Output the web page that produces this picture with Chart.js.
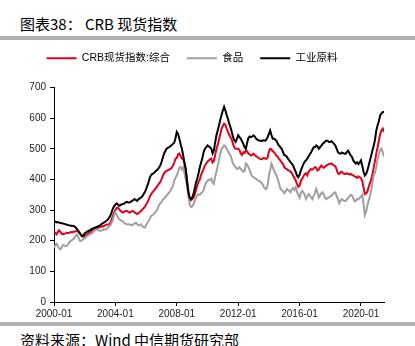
<!DOCTYPE html>
<html>
<head>
<meta charset="utf-8">
<script src="https://cdn.jsdelivr.net/npm/chart.js@4.4.1/dist/chart.umd.min.js"></script>
<style>
  html, body { margin: 0; padding: 0; background: #fff; }
  body { width: 415px; height: 346px; position: relative; overflow: hidden; font-family: "Noto Sans CJK SC", sans-serif; }
  #title { position: absolute; left: 20px; top: 15px; font-size: 15px; line-height: 18px; color: #000; white-space: nowrap; }
  .rule { position: absolute; left: 0; width: 415px; height: 4px; background: #b0b0b0; z-index: 2; }
  #src { position: absolute; left: 20px; top: 331px; font-size: 15px; line-height: 18px; color: #000; white-space: nowrap; }
  #box { position: absolute; left: 0; top: 36px; width: 415px; height: 286px; }
</style>
</head>
<body>
<div id="title">图表38： CRB 现货指数</div>
<div class="rule" style="top:36px"></div>
<div id="box"><canvas id="mainChart"></canvas></div>
<div class="rule" style="top:322px"></div>
<div id="src">资料来源：Wind 中信期货研究部</div>
<script>
// monthly values, 2000-01 .. 2021-07
const seriesNames = ["CRB现货指数:综合", "食品", "工业原料"];
const tickLabels = ["2000-01", "2004-01", "2008-01", "2012-01", "2016-01", "2020-01"];

const composite = [
	229, 226, 221, 228, 234, 229, 223, 221, 223, 224, 226, 225,
	226, 228, 227, 229, 229, 231, 232, 230, 226, 220, 215, 213,
	215, 218, 220, 224, 227, 231, 234, 237, 238, 240, 242, 243,
	245, 247, 246, 248, 250, 253, 252, 254, 258, 268, 282, 292,
	300, 307, 308, 302, 298, 294, 292, 294, 297, 297, 294, 292,
	294, 297, 296, 292, 290, 287, 290, 294, 297, 302, 306, 310,
	318, 325, 333, 345, 352, 358, 363, 368, 374, 380, 386, 391,
	400, 410, 420, 425, 428, 430, 432, 434, 438, 445, 455, 468,
	470, 482, 484, 476, 468, 465, 452, 430, 400, 365, 340, 332,
	335, 340, 350, 365, 380, 392, 400, 415, 425, 435, 445, 452,
	458, 462, 466, 468, 455, 460, 480, 500, 512, 530, 548, 565,
	575, 582, 578, 566, 555, 545, 538, 530, 515, 505, 500, 500,
	500, 496, 485, 480, 489, 486, 494, 492, 484, 482, 478, 480,
	484, 480, 476, 473, 470, 467, 466, 467, 470, 468, 467, 472,
	490, 500, 498, 492, 489, 484, 476, 473, 466, 462, 455, 451,
	440, 436, 434, 430, 429, 425, 420, 412, 404, 396, 385, 376,
	380, 395, 402, 410, 418, 420, 413, 425, 430, 434, 432, 436,
	440, 438, 429, 432, 440, 445, 440, 438, 442, 445, 448, 450,
	451, 452, 448, 445, 443, 432, 420, 418, 423, 425, 420, 418,
	418, 420, 418, 416, 418, 415, 413, 410, 408, 405, 410, 407,
	404, 395, 374, 352, 355, 360, 375, 388, 400, 418, 440, 462,
	485, 505, 527, 548, 560, 566, 555
];

const food = [
	177, 185, 190, 183, 175, 172, 178, 186, 185, 182, 183, 188,
	195, 199, 202, 205, 210, 216, 221, 212, 200, 199, 202, 205,
	208, 212, 215, 218, 221, 222, 226, 230, 234, 237, 236, 234,
	232, 233, 235, 237, 236, 238, 242, 246, 250, 258, 268, 285,
	292, 285, 276, 270, 268, 265, 262, 258, 255, 254, 254, 253,
	252, 250, 254, 256, 259, 254, 250, 252, 254, 248, 244, 243,
	250, 259, 265, 272, 281, 284, 287, 292, 297, 303, 315, 322,
	325, 334, 338, 342, 347, 352, 358, 363, 370, 380, 395, 405,
	413, 425, 438, 440, 432, 440, 420, 400, 380, 347, 320, 310,
	312, 318, 330, 340, 347, 352, 350, 355, 358, 365, 380, 391,
	395, 400, 398, 402, 390, 385, 410, 424, 445, 465, 485, 500,
	505, 511, 508, 500, 492, 484, 478, 465, 452, 445, 440, 434,
	436, 440, 434, 430, 425, 428, 452, 448, 440, 430, 418, 410,
	407, 404, 402, 398, 396, 394, 390, 385, 376, 370, 368, 380,
	413, 430, 451, 440, 429, 420, 413, 400, 385, 370, 365, 363,
	355, 360, 369, 365, 362, 358, 369, 372, 365, 374, 360, 350,
	340, 355, 363, 358, 350, 336, 345, 352, 348, 340, 335, 347,
	355, 369, 358, 341, 348, 355, 358, 350, 340, 336, 340, 341,
	345, 347, 352, 356, 358, 345, 336, 322, 330, 336, 332, 330,
	330, 335, 340, 345, 350, 348, 338, 328, 330, 336, 335, 340,
	345, 350, 320, 284, 295, 315, 330, 345, 365, 391, 415, 423,
	440, 467, 484, 495, 500, 489, 475
];

const industrial = [
	265, 262, 260, 261, 259, 258, 257, 256, 255, 254, 252, 251,
	250, 249, 249, 248, 247, 243, 238, 232, 225, 219, 215, 218,
	224, 226, 230, 232, 234, 237, 239, 241, 243, 244, 246, 248,
	250, 254, 257, 259, 262, 265, 268, 275, 281, 292, 305, 312,
	318, 322, 318, 314, 316, 319, 320, 322, 325, 327, 325, 325,
	327, 330, 332, 336, 333, 330, 335, 338, 341, 345, 352, 358,
	368, 380, 392, 407, 415, 418, 420, 425, 429, 432, 438, 445,
	456, 470, 484, 492, 500, 503, 505, 508, 512, 516, 520, 535,
	555, 548, 533, 515, 500, 478, 455, 434, 391, 358, 341, 336,
	340, 352, 370, 390, 402, 420, 440, 455, 470, 489, 500, 505,
	511, 508, 505, 500, 485, 495, 520, 544, 560, 577, 595, 610,
	625, 637, 625, 610, 598, 582, 570, 555, 538, 528, 522, 532,
	544, 538, 533, 525, 516, 505, 500, 520, 535, 540, 538, 540,
	544, 540, 533, 530, 527, 527, 525, 527, 528, 526, 530, 538,
	549, 560, 545, 533, 533, 530, 525, 516, 510, 505, 500, 490,
	480, 478, 474, 467, 462, 456, 451, 445, 434, 425, 412, 407,
	415, 429, 440, 450, 458, 462, 468, 475, 482, 489, 497, 505,
	505, 511, 508, 500, 505, 510, 516, 520, 524, 527, 526, 522,
	522, 525, 520, 516, 510, 500, 489, 485, 484, 488, 486, 484,
	484, 490, 494, 485, 478, 473, 462, 456, 452, 456, 450, 455,
	462, 445, 425, 413, 418, 429, 445, 462, 478, 495, 511, 530,
	560, 577, 590, 609, 615, 620, 620
];

const months = [];
for (let i = 0; i < composite.length; i++) {
	const y = 2000 + Math.floor(i / 12), m = i % 12 + 1;
	months.push(y + "-" + (m < 10 ? "0" + m : m));
}
const tickIdx = tickLabels.map(t => months.indexOf(t));
const pts = arr => arr.map((v, i) => ({ x: i, y: v }));

// push the plot down a bit below the legend
const legendGap = {
	id: "legendGap",
	beforeInit(chart) {
		const fit = chart.legend.fit;
		chart.legend.fit = function () { fit.call(this); this.height += 14; };
	}
};

const tickFont = { family: "'Liberation Sans', Arial, sans-serif", size: 10 };

new Chart("mainChart", {
	type: "line",
	data: {
		datasets: [
			{ label: seriesNames[0], data: pts(composite), borderColor: "#e2001a", backgroundColor: "#e2001a", order: 3 },
			{ label: seriesNames[1], data: pts(food), borderColor: "#a0a0a0", backgroundColor: "#a0a0a0", order: 2 },
			{ label: seriesNames[2], data: pts(industrial), borderColor: "#000000", backgroundColor: "#000000", order: 1 }
		]
	},
	options: {
		responsive: true,
		maintainAspectRatio: false,
		animation: false,
		devicePixelRatio: 1,
		layout: { padding: { left: 0, right: 31, top: 0, bottom: 0 } },
		elements: {
			line: { borderWidth: 2, tension: 0 },
			point: { radius: 0 }
		},
		plugins: {
			tooltip: { enabled: false },
			legend: {
				position: "top",
				labels: {
					boxWidth: 30,
					boxHeight: 2,
					padding: 17,
					color: "#000",
					font: { family: "'Liberation Sans', 'Noto Sans CJK SC', sans-serif", size: 10.5 },
					sort: (a, b) => a.datasetIndex - b.datasetIndex,
					generateLabels: chart => Chart.defaults.plugins.legend.labels.generateLabels(chart).map(l => Object.assign(l, { lineWidth: 0 }))
				}
			}
		},
		scales: {
			x: {
				type: "linear",
				min: 0,
				max: composite.length - 1,
				afterFit: s => { s.height = 20; },
				afterBuildTicks: s => { s.ticks = tickIdx.map(v => ({ value: v })); },
				grid: { drawOnChartArea: false, drawTicks: true, tickLength: 4, color: "#000" },
				border: { color: "#000", width: 1 },
				ticks: {
					autoSkip: false,
					maxRotation: 0,
					padding: 2,
					color: "#222",
					font: tickFont,
					callback: v => months[v]
				}
			},
			y: {
				min: 0,
				max: 700,
				afterFit: s => { s.width = 54; },
				grid: { drawOnChartArea: false, drawTicks: true, tickLength: 4, color: "#000" },
				border: { color: "#000", width: 1 },
				ticks: { stepSize: 100, padding: 4, color: "#222", font: tickFont }
			}
		}
	},
	plugins: [legendGap]
});
</script>
</body>
</html>
